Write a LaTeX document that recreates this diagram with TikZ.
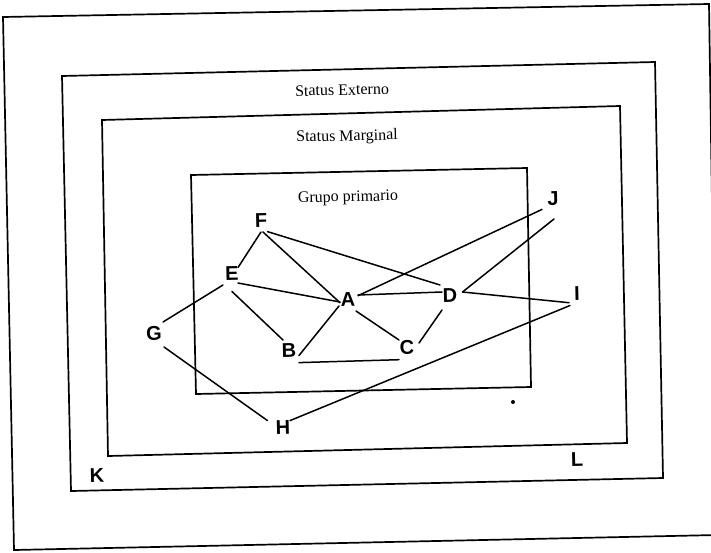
\documentclass[tikz,border=0pt]{standalone}
\usepackage{fontspec}
\setmainfont{Liberation Serif}
\newfontfamily\lettersfont{Liberation Sans}
\usetikzlibrary{calc}
\begin{document}
\begin{tikzpicture}[x=1pt,y=-1pt,
  frame/.style={line width=1.7pt,line join=miter},
  edge/.style={line width=1.5pt,line cap=round},
  letter/.style={font=\lettersfont\bfseries\fontsize{20}{20}\selectfont,inner sep=0pt,rotate=1.3},
  title/.style={font=\fontsize{16}{16}\selectfont,inner sep=0pt,rotate=1.3}]
\clip (0,0) rectangle (711,552);
\fill[white] (0,0) rectangle (711,552);
% frames
\draw[frame] (3,17) -- (709,4) -- (717,535) -- (14,550) -- cycle;
\draw[frame] (62,76) -- (655,62) -- (663,478) -- (71,491) -- cycle;
\draw[frame] (102,120) -- (620,106) -- (627,443) -- (108,456) -- cycle;
\draw[frame] (191,175) -- (527,168) -- (531,387) -- (196,394) -- cycle;
% titles
\node[title] (ext) at (342,90) {Status Externo};
\node[title] (mar) at (347,137) {Status Marginal};
\node[title] (gru) at (348,198) {Grupo primario};
% letters
\node[letter] (F) at (261,220) {F};
\node[letter] (E) at (232,273) {E};
\node[letter] (A) at (348,299) {A};
\node[letter] (D) at (450,295) {D};
\node[letter] (J) at (553,199) {J};
\node[letter] (I) at (577,294) {I};
\node[letter] (G) at (154,333) {G};
\node[letter] (B) at (289,350) {B};
\node[letter] (C) at (407,347) {C};
\node[letter] (H) at (283,427) {H};
\node[letter] (K) at (97,475) {K};
\node[letter] (L) at (577,459) {L};
\fill (513,402) circle (2);
% edges
\draw[edge] ($(F)+(0,12)$) -- ($(E)+(6,-5.5)$);
\draw[edge] ($(F)+(2,12)$) -- ($(A)+(-8,3.7)$);
\draw[edge] ($(F)+(6.5,11.6)$) -- ($(D)+(-10,-10)$);
\draw[edge] ($(E)+(6,10)$) -- ($(A)+(-8,3)$);
\draw[edge] ($(E)+(0,18.5)$) -- ($(B)+(-6,-10)$);
\draw[edge] ($(E)+(-9,12)$) -- ($(G)+(9,-11)$);
\draw[edge] ($(G)+(10,14)$) -- ($(H)+(-15.5,-6.4)$);
\draw[edge] ($(H)+(7,-6.4)$) -- ($(I)+(-7,11.5)$);
\draw[edge] ($(A)+(-9,7)$) -- ($(B)+(10,5.5)$);
\draw[edge] ($(A)+(8,12)$) -- ($(C)+(-8,-7)$);
\draw[edge] ($(A)+(10,-3.3)$) -- ($(J)+(-11,10.4)$);
\draw[edge] ($(A)+(10,-4)$) -- ($(D)+(-8,-3)$);
\draw[edge] ($(D)+(12.5,-3)$) -- ($(J)+(1,20)$);
\draw[edge] ($(D)+(12.5,-3)$) -- ($(I)+(-8,8.7)$);
\draw[edge] ($(D)+(-8,15)$) -- ($(C)+(12,-4)$);
\draw[edge] ($(B)+(10,12.6)$) -- ($(C)+(-8,12.7)$);
\end{tikzpicture}
\end{document}
